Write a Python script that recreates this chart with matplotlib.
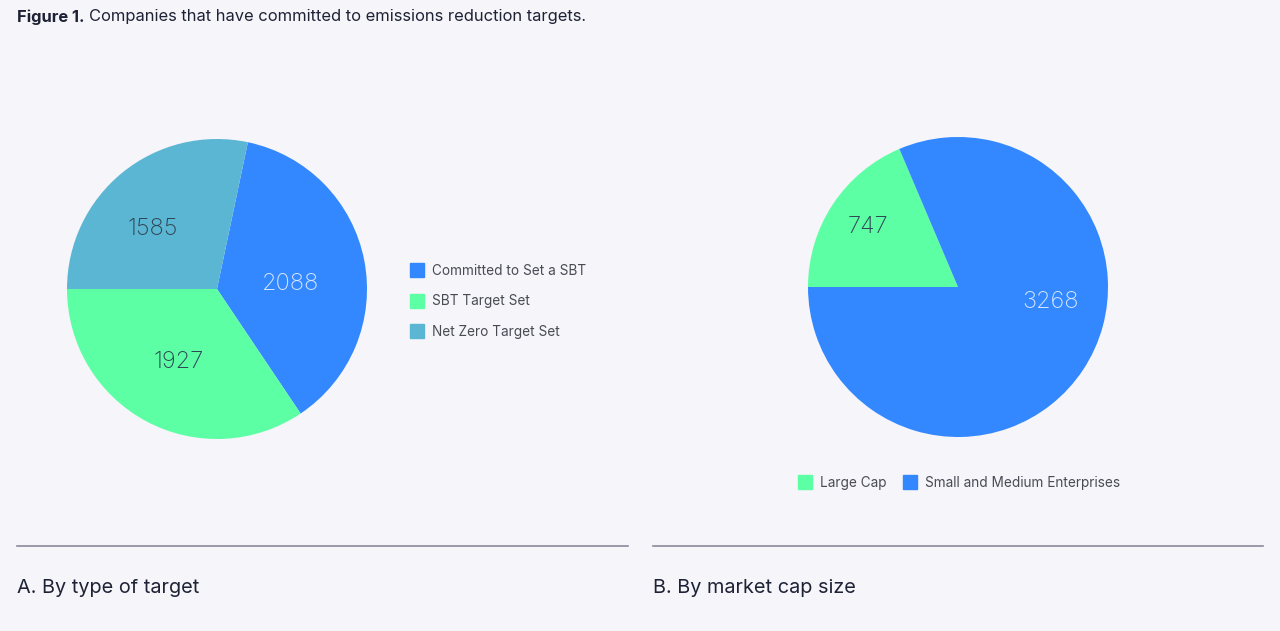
import matplotlib
matplotlib.use("Agg")
import matplotlib.pyplot as plt
from matplotlib.lines import Line2D

plt.rcParams["font.family"] = ["Inter", "DejaVu Sans"]

# data
target_labels = ["Committed to Set a SBT", "SBT Target Set", "Net Zero Target Set"]
target_counts = [2088, 1927, 1585]
target_colors = ["#3388ff", "#5dffa5", "#5bb6d3"]

cap_labels = ["Large Cap", "Small and Medium Enterprises"]
cap_counts = [747, 3268]
cap_colors = ["#5dffa5", "#3388ff"]

BG = "#f5f5fa"
DARK = "#1e2235"
W, H = 1280, 631


def fx(px):
    return px / W


def fy(py):
    return 1 - py / H


def draw_pie(ax, counts, colors, start, label_colors, dist):
    wedges, _, autotexts = ax.pie(
        counts, colors=colors, startangle=start, counterclock=False,
        radius=1.0, autopct=lambda p: f"{p * sum(counts) / 100:.0f}",
        pctdistance=dist, wedgeprops=dict(linewidth=0),
        textprops=dict(fontsize=17, fontweight="light"),
    )
    for t, c in zip(autotexts, label_colors):
        t.set_color(c)
    ax.set_xlim(-1, 1)
    ax.set_ylim(-1, 1)
    ax.set_aspect("equal")
    ax.axis("off")
    return wedges, autotexts


fig = plt.figure(figsize=(W / 100, H / 100), dpi=100, facecolor=BG)

fig.text(fx(17), fy(17), "Figure 1.", fontsize=11.9, fontweight="bold",
         color=DARK, va="center", ha="left")
fig.text(fx(89), fy(17), "Companies that have committed to emissions reduction targets.",
         fontsize=11.9, color=DARK, va="center", ha="left")

# A: by type of target
axA = fig.add_axes([fx(67), fy(439), 300 / W, 300 / H])
startA = 180 - 360 * target_counts[-1] / sum(target_counts)
wA, tA = draw_pie(axA, target_counts, target_colors, startA,
                  ["#d6e6ff", "#2f4453", "#2f4453"], 0.55)
# nudge labels towards where the original places them
tA[0].set_position((0.49, 0.03))
tA[2].set_position((-0.43, 0.40))

# B: by market cap size
axB = fig.add_axes([fx(808), fy(437), 300 / W, 300 / H])
wB, tB = draw_pie(axB, cap_counts, cap_colors, 180,
                  ["#2f4453", "#d6e6ff"], 0.72)
tB[1].set_position((0.62, -0.10))

legA = fig.legend(
    [Line2D([], [], marker="s", linestyle="none", markersize=10, color=c) for c in target_colors],
    target_labels, loc="upper left", bbox_to_anchor=(fx(409), fy(264)),
    frameon=False, fontsize=9.8, labelspacing=1.2, handletextpad=0.5,
    borderpad=0, borderaxespad=0, handlelength=1.2, labelcolor="#4a4a55",
)

legB = fig.legend(
    [Line2D([], [], marker="s", linestyle="none", markersize=10, color=c) for c in cap_colors],
    cap_labels, loc="center left", bbox_to_anchor=(fx(797), fy(483)), ncol=2,
    frameon=False, fontsize=9.8, handletextpad=0.5, columnspacing=1.1,
    borderpad=0, borderaxespad=0, handlelength=1.2, labelcolor="#4a4a55",
)

for x0, x1 in [(17, 628), (653, 1263)]:
    fig.add_artist(Line2D([fx(x0), fx(x1)], [fy(546), fy(546)],
                          color="#8a8a99", linewidth=1.2))

fig.text(fx(17), fy(588), "A. By type of target", fontsize=14.3,
         color=DARK, va="center", ha="left")
fig.text(fx(653), fy(588), "B. By market cap size", fontsize=14.3,
         color=DARK, va="center", ha="left")

fig.savefig("out.png", dpi=100, facecolor=BG)
